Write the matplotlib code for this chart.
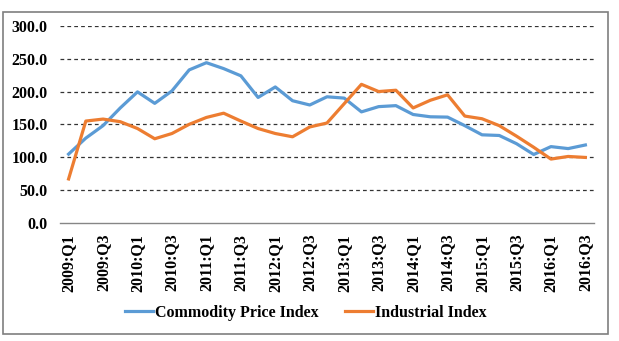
import matplotlib
matplotlib.use('Agg')
import matplotlib.pyplot as plt
from matplotlib.patches import Rectangle
import numpy as np

# quarters 2009:Q1 .. 2016:Q3
quarters = []
for yr in range(2009, 2017):
    for q in range(1, 5):
        quarters.append('%d:Q%d' % (yr, q))
quarters = quarters[:31]

commodity = [104.6, 129, 148, 175, 199.5, 182, 201, 233, 244, 235, 224, 191,
             207, 186, 179.5, 192, 190, 169, 177, 178.5, 165, 161.5, 161,
             148, 134, 133, 120.5, 104, 116, 113, 118.5]
industrial = [66.7, 155, 158, 154, 143.6, 128, 136, 150, 160.5, 167, 155, 143.6,
              136, 131, 146, 152, 181.5, 211, 200, 202, 175, 186.7, 195,
              162.6, 158.5, 148, 132, 115, 97, 101, 99.5]

yticks = [0, 50, 100, 150, 200, 250, 300]

plt.rcParams['font.family'] = ['Liberation Serif', 'DejaVu Serif']
plt.rcParams['font.weight'] = 'bold'

fig = plt.figure(figsize=(6.19, 3.41), dpi=100)
ax = fig.add_axes([0.0969, 0.347, 0.8627, 0.5768])

x = np.arange(len(quarters))
ax.plot(x, commodity, color='#5B9BD5', lw=2.3, label='Commodity Price Index', zorder=3)
ax.plot(x, industrial, color='#ED7D31', lw=2.3, label='Industrial Index', zorder=3)

ax.set_xlim(-0.5, len(quarters) - 0.5)
ax.set_ylim(0, 300)
ax.set_yticks(yticks)
ax.set_yticklabels(['%.1f' % v for v in yticks], fontsize=11.5, fontweight='bold')
ax.set_xticks(x[::2])
ax.set_xticklabels(quarters[::2], rotation=90, fontsize=11.5, fontweight='bold')
ax.tick_params(axis='both', length=0)
ax.tick_params(axis='x', pad=8)
ax.tick_params(axis='y', pad=9)

for v in yticks[1:]:
    ax.axhline(v, color='#333333', lw=0.9, ls=(0, (3, 2.5)), zorder=1)

for s in ['top', 'right', 'left']:
    ax.spines[s].set_visible(False)
ax.spines['bottom'].set_color('#868686')
ax.spines['bottom'].set_linewidth(1.0)

fig.legend(loc='center', bbox_to_anchor=(0.494, 0.083), ncol=2, frameon=False,
           prop={'family': 'Liberation Serif', 'weight': 'bold', 'size': 11.5},
           handlelength=1.75, handletextpad=0.1, columnspacing=1.7)

# outer chart border
fig.patches.append(Rectangle((3 / 619, 1 - 334 / 341), 605 / 619, 322 / 341,
                             transform=fig.transFigure, fill=False,
                             edgecolor='#7f7f7f', lw=1.2))

fig.savefig('out.png', dpi=100)
